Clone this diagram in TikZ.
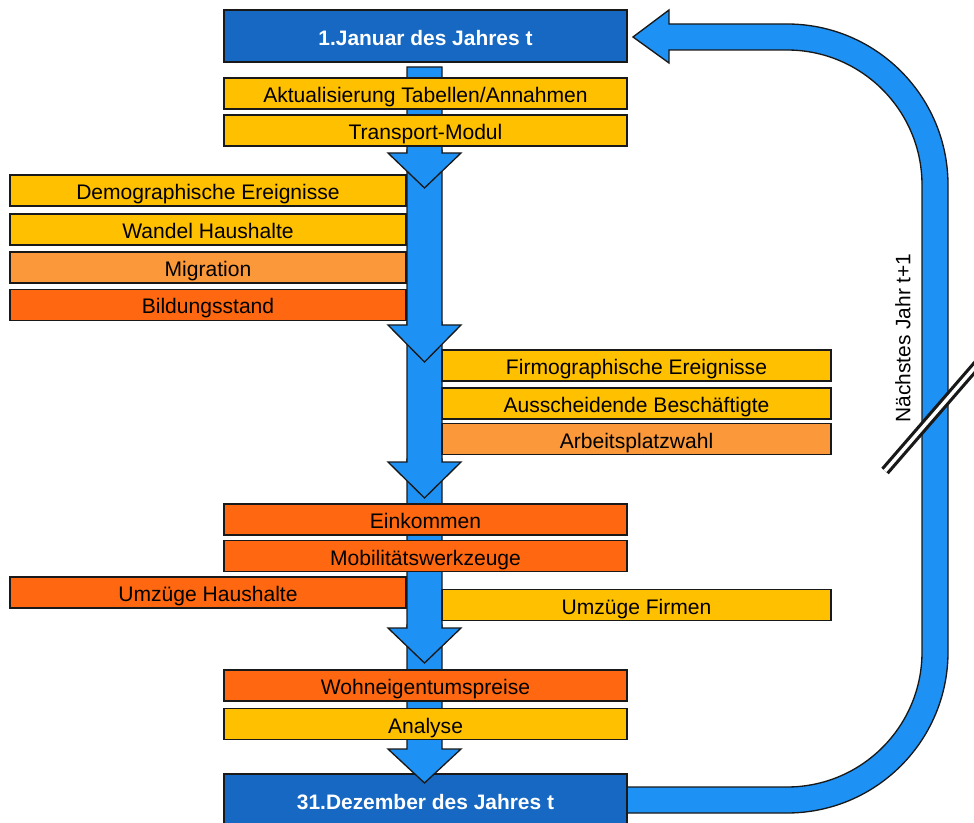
\documentclass[tikz,border=0pt]{standalone}
\usepackage{fontspec}
\setmainfont{Liberation Sans}
\definecolor{hdrblue}{RGB}{22,104,194}
\definecolor{flowblue}{RGB}{30,145,245}
\definecolor{boxyellow}{RGB}{255,192,0}
\definecolor{boxlight}{RGB}{250,152,58}
\definecolor{boxdark}{RGB}{255,104,16}
\definecolor{edge}{RGB}{25,25,25}
\begin{document}
\begin{tikzpicture}[x=0.75pt,y=-0.75pt,
  box/.style={draw=edge,line width=1.25pt,inner sep=0pt,minimum height=23.25pt,
    text height=13.5pt,text depth=0pt,
    font=\fontsize{15.8}{18}\selectfont,text=black},
  wide/.style={box,minimum width=302.25pt},
  leftw/.style={box,minimum width=297pt},
  rightw/.style={box,minimum width=291.75pt},
  yel/.style={fill=boxyellow},
  lor/.style={fill=boxlight},
  dor/.style={fill=boxdark},
  datebox/.style={draw=edge,line width=1.25pt,fill=hdrblue,inner sep=0pt,
    text height=14.2pt,text depth=0pt,
    minimum width=302.25pt,minimum height=39pt,text=white,
    font=\fontsize{15.7}{18}\bfseries\selectfont},
  flowar/.style={draw=edge,line width=1pt,fill=flowblue,line join=miter}]
\clip (0,0) rectangle (974,823);
\fill[white] (0,0) rectangle (974,823);
% loop arrow
\draw[flowar] (627,787) coordinate (loopstart) -- (787,787)
  arc[start angle=-90,end angle=0,radius=101.25pt] -- (922,185)
  arc[start angle=0,end angle=90,radius=101.25pt] -- (669,50) -- (669,63)
  -- (633,37) coordinate (looptip) -- (669,10) -- (669,24) -- (787,24)
  arc[start angle=90,end angle=0,radius=120.75pt] -- (948,652)
  arc[start angle=0,end angle=-90,radius=120.75pt] -- (627,813) -- cycle;
% date boxes
\node[datebox] (jan) at (425.5,36) {1.Januar des Jahres t};
\node[datebox] (dez) at (425.5,800) {31.Dezember des Jahres t};
% flow arrows, drawn bottom to top
\newcommand\flowarrow[3]{%
  \draw[flowar] (407,#1) -- (407,#2) -- (388,#2) -- (424.5,#3) -- (461,#2)
    -- (442,#2) -- (442,#1) -- cycle;}
\flowarrow{625}{749}{783}
\flowarrow{459}{628}{663}
\flowarrow{322}{462}{498}
\flowarrow{150}{325}{362}
\flowarrow{67}{153}{188}
% boxes
\node[wide,yel] (akt) at (425.5,93.5) {Aktualisierung Tabellen/Annahmen};
\node[wide,yel] (trans) at (425.5,130.5) {Transport-Modul};
\node[leftw,yel] (demo) at (208,190.5) {Demographische Ereignisse};
\node[leftw,yel] (wandel) at (208,229.5) {Wandel Haushalte};
\node[leftw,lor] (migr) at (208,267.5) {Migration};
\node[leftw,dor] (bild) at (208,305) {Bildungsstand};
\node[rightw,yel] (firmo) at (636.5,365.5) {Firmographische Ereignisse};
\node[rightw,yel] (aussch) at (636.5,403.5) {Ausscheidende Beschäftigte};
\node[rightw,lor] (arbeit) at (636.5,439) {Arbeitsplatzwahl};
\node[wide,dor] (eink) at (425.5,519.5) {Einkommen};
\node[wide,dor] (mobil) at (425.5,556) {Mobilitätswerkzeuge};
\node[leftw,dor] (umzh) at (208,592.5) {Umzüge Haushalte};
\node[rightw,yel] (umzf) at (636.5,605) {Umzüge Firmen};
\node[wide,dor] (wohn) at (425.5,685.5) {Wohneigentumspreise};
\node[wide,yel] (analyse) at (425.5,724) {Analyse};
% loop label and break mark
\node[rotate=90,font=\fontsize{15.7}{18}\selectfont] (next) at (903,338) {Nächstes Jahr t+1};
\coordinate (brkA) at (885,471);
\coordinate (brkB) at (995,344);
\draw[edge,line width=2.4pt,double=white,double distance=2.6pt] (brkA) -- (brkB);
\end{tikzpicture}
\end{document}
